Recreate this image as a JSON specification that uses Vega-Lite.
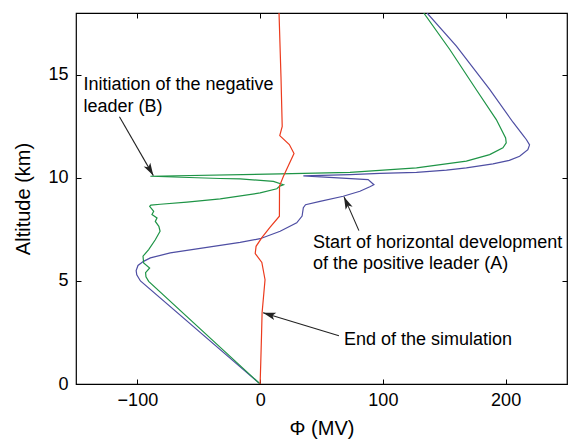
{
  "$schema": "https://vega.github.io/schema/vega-lite/v6.json",
  "width": 491,
  "height": 371,
  "autosize": {"type": "none"},
  "padding": {"left": 76, "top": 13, "right": 2, "bottom": 56},
  "background": "white",
  "config": {
    "font": "Liberation Sans",
    "view": {"stroke": "black", "strokeWidth": 1.2},
    "axis": {
      "grid": false,
      "domain": false,
      "tickColor": "black",
      "tickSize": 5,
      "offset": -5,
      "tickWidth": 1,
      "labelColor": "black",
      "labelFontSize": 18,
      "titleColor": "black",
      "titleFontSize": 20,
      "titleFontWeight": "normal"
    }
  },
  "datasets": {
    "curves": [
      {"s": "blue", "i": 0, "x": 0, "y": 0},
      {"s": "blue", "i": 1, "x": -97.5, "y": 5.0},
      {"s": "blue", "i": 2, "x": -100.5, "y": 5.3},
      {"s": "blue", "i": 3, "x": -101, "y": 5.5},
      {"s": "blue", "i": 4, "x": -99.5, "y": 5.75},
      {"s": "blue", "i": 5, "x": -95, "y": 5.95},
      {"s": "blue", "i": 6, "x": -89.4, "y": 6.12},
      {"s": "blue", "i": 7, "x": -73.2, "y": 6.36},
      {"s": "blue", "i": 8, "x": -46.1, "y": 6.6},
      {"s": "blue", "i": 9, "x": -16.3, "y": 6.87},
      {"s": "blue", "i": 10, "x": 0, "y": 7.05},
      {"s": "blue", "i": 11, "x": 16.3, "y": 7.41},
      {"s": "blue", "i": 12, "x": 29.8, "y": 7.82},
      {"s": "blue", "i": 13, "x": 34.2, "y": 8.15},
      {"s": "blue", "i": 14, "x": 35.2, "y": 8.55},
      {"s": "blue", "i": 15, "x": 37, "y": 8.7},
      {"s": "blue", "i": 16, "x": 48.8, "y": 8.86},
      {"s": "blue", "i": 17, "x": 67.7, "y": 9.11},
      {"s": "blue", "i": 18, "x": 81.3, "y": 9.35},
      {"s": "blue", "i": 19, "x": 89.4, "y": 9.57},
      {"s": "blue", "i": 20, "x": 92.7, "y": 9.67},
      {"s": "blue", "i": 21, "x": 88, "y": 9.92},
      {"s": "blue", "i": 22, "x": 35.2, "y": 10.1},
      {"s": "blue", "i": 23, "x": 73.2, "y": 10.16},
      {"s": "blue", "i": 24, "x": 97.6, "y": 10.22},
      {"s": "blue", "i": 25, "x": 127.4, "y": 10.27},
      {"s": "blue", "i": 26, "x": 151.8, "y": 10.38},
      {"s": "blue", "i": 27, "x": 168, "y": 10.49},
      {"s": "blue", "i": 28, "x": 189.7, "y": 10.68},
      {"s": "blue", "i": 29, "x": 203, "y": 10.85},
      {"s": "blue", "i": 30, "x": 211.4, "y": 11.05},
      {"s": "blue", "i": 31, "x": 218.1, "y": 11.37},
      {"s": "blue", "i": 32, "x": 219.5, "y": 11.6},
      {"s": "blue", "i": 33, "x": 217, "y": 11.85},
      {"s": "blue", "i": 34, "x": 213.8, "y": 12.1},
      {"s": "blue", "i": 35, "x": 206, "y": 12.7},
      {"s": "blue", "i": 36, "x": 187, "y": 14.29},
      {"s": "blue", "i": 37, "x": 159.9, "y": 16.39},
      {"s": "blue", "i": 38, "x": 136, "y": 18},
      {"s": "green", "i": 0, "x": 0, "y": 0},
      {"s": "green", "i": 1, "x": -90.8, "y": 4.98},
      {"s": "green", "i": 2, "x": -93, "y": 5.2},
      {"s": "green", "i": 3, "x": -93.3, "y": 5.4},
      {"s": "green", "i": 4, "x": -90, "y": 5.63},
      {"s": "green", "i": 5, "x": -94.9, "y": 5.87},
      {"s": "green", "i": 6, "x": -95.4, "y": 6.2},
      {"s": "green", "i": 7, "x": -90.8, "y": 6.52},
      {"s": "green", "i": 8, "x": -85.4, "y": 7.0},
      {"s": "green", "i": 9, "x": -81.5, "y": 7.41},
      {"s": "green", "i": 10, "x": -82.5, "y": 7.65},
      {"s": "green", "i": 11, "x": -85.4, "y": 7.89},
      {"s": "green", "i": 12, "x": -84, "y": 8.06},
      {"s": "green", "i": 13, "x": -88.1, "y": 8.22},
      {"s": "green", "i": 14, "x": -86.7, "y": 8.38},
      {"s": "green", "i": 15, "x": -90, "y": 8.62},
      {"s": "green", "i": 16, "x": -89, "y": 8.68},
      {"s": "green", "i": 17, "x": -81.3, "y": 8.72},
      {"s": "green", "i": 18, "x": -59.6, "y": 8.82},
      {"s": "green", "i": 19, "x": -32.5, "y": 8.98},
      {"s": "green", "i": 20, "x": 0, "y": 9.27},
      {"s": "green", "i": 21, "x": 13.6, "y": 9.47},
      {"s": "green", "i": 22, "x": 16, "y": 9.6},
      {"s": "green", "i": 23, "x": 19, "y": 9.67},
      {"s": "green", "i": 24, "x": 10.8, "y": 9.83},
      {"s": "green", "i": 25, "x": -16.3, "y": 9.95},
      {"s": "green", "i": 26, "x": -32.5, "y": 9.97},
      {"s": "green", "i": 27, "x": -89.4, "y": 10.08},
      {"s": "green", "i": 28, "x": 16.3, "y": 10.19},
      {"s": "green", "i": 29, "x": 73.2, "y": 10.27},
      {"s": "green", "i": 30, "x": 127.4, "y": 10.49},
      {"s": "green", "i": 31, "x": 168, "y": 10.81},
      {"s": "green", "i": 32, "x": 187, "y": 11.13},
      {"s": "green", "i": 33, "x": 197.8, "y": 11.46},
      {"s": "green", "i": 34, "x": 200.5, "y": 11.7},
      {"s": "green", "i": 35, "x": 200, "y": 11.94},
      {"s": "green", "i": 36, "x": 192.4, "y": 12.83},
      {"s": "green", "i": 37, "x": 176, "y": 14.29},
      {"s": "green", "i": 38, "x": 154.5, "y": 16.23},
      {"s": "green", "i": 39, "x": 133.3, "y": 18},
      {"s": "red", "i": 0, "x": 0, "y": 0},
      {"s": "red", "i": 1, "x": 0.5, "y": 1.0},
      {"s": "red", "i": 2, "x": 1.2, "y": 2.5},
      {"s": "red", "i": 3, "x": 1.6, "y": 3.46},
      {"s": "red", "i": 4, "x": 4, "y": 5.06},
      {"s": "red", "i": 5, "x": 1.4, "y": 5.9},
      {"s": "red", "i": 6, "x": -4, "y": 6.33},
      {"s": "red", "i": 7, "x": -3.3, "y": 6.68},
      {"s": "red", "i": 8, "x": 1.4, "y": 7.1},
      {"s": "red", "i": 9, "x": 8, "y": 7.6},
      {"s": "red", "i": 10, "x": 15.7, "y": 8.14},
      {"s": "red", "i": 11, "x": 15.8, "y": 9.6},
      {"s": "red", "i": 12, "x": 19, "y": 10.08},
      {"s": "red", "i": 13, "x": 27.6, "y": 11.18},
      {"s": "red", "i": 14, "x": 23.8, "y": 11.62},
      {"s": "red", "i": 15, "x": 16, "y": 12.05},
      {"s": "red", "i": 16, "x": 18, "y": 12.5},
      {"s": "red", "i": 17, "x": 17, "y": 14.9},
      {"s": "red", "i": 18, "x": 15.4, "y": 18}
    ],
    "arrows": [
      {"id": "B", "x": -114.6, "y": 12.97, "x2": -87, "y2": 10.11},
      {"id": "A", "x": 80.5, "y": 7.44, "x2": 68.3, "y2": 9.09},
      {"id": "E", "x": 64.2, "y": 2.34, "x2": 2.4, "y2": 3.46}
    ],
    "notes": [
      {"x": -143.9, "y": 14.53, "t": "Initiation of the negative"},
      {"x": -143.9, "y": 13.46, "t": "leader (B)"},
      {"x": 43.1, "y": 6.86, "t": "Start of horizontal development"},
      {"x": 43.1, "y": 5.84, "t": "of the positive leader (A)"},
      {"x": 68.3, "y": 2.15, "t": "End of the simulation"}
    ]
  },
  "resolve": {"axis": {"x": "independent", "y": "independent"}},
  "layer": [
    {
      "data": {"name": "curves"},
      "mark": {"type": "line", "strokeWidth": 1.2, "clip": true},
      "encoding": {
        "x": {"field": "x", "type": "quantitative",
              "scale": {"domain": [-150, 250], "nice": false, "zero": false},
              "axis": {"orient": "bottom", "values": [-100, 0, 100, 200], "labelPadding": 7, "title": "Φ (MV)", "titlePadding": 9}},
        "y": {"field": "y", "type": "quantitative",
              "scale": {"domain": [0, 18], "nice": false, "zero": false},
              "axis": {"orient": "left", "values": [0, 5, 10, 15], "labelPadding": 8, "title": "Altitude (km)", "titlePadding": 14}},
        "color": {"field": "s", "type": "nominal",
                  "scale": {"domain": ["blue", "green", "red"], "range": ["#4e4ea3", "#1e9446", "#ec3b1e"]},
                  "legend": null},
        "order": {"field": "i", "type": "quantitative"}
      }
    },
    {
      "data": {"name": "arrows"},
      "mark": {"type": "rule", "color": "#222222", "strokeWidth": 1.1},
      "encoding": {
        "x": {"field": "x", "type": "quantitative",
              "scale": {"domain": [-150, 250], "nice": false, "zero": false},
              "axis": {"orient": "top", "values": [-100, 0, 100, 200], "labels": false, "title": null}},
        "y": {"field": "y", "type": "quantitative",
              "scale": {"domain": [0, 18], "nice": false, "zero": false},
              "axis": {"orient": "right", "values": [0, 5, 10, 15], "labels": false, "title": null}},
        "x2": {"field": "x2"},
        "y2": {"field": "y2"}
      }
    },
    {
      "data": {"name": "arrows"},
      "transform": [{"filter": "datum.id == 'B'"}],
      "mark": {"type": "point", "shape": "M0,0L0.6,2L0,1.55L-0.6,2Z", "filled": true, "color": "#222222", "opacity": 1, "size": 160, "angle": 150},
      "encoding": {
        "x": {"field": "x2", "type": "quantitative", "axis": null},
        "y": {"field": "y2", "type": "quantitative", "axis": null}
      }
    },
    {
      "data": {"name": "arrows"},
      "transform": [{"filter": "datum.id == 'A'"}],
      "mark": {"type": "point", "shape": "M0,0L0.6,2L0,1.55L-0.6,2Z", "filled": true, "color": "#222222", "opacity": 1, "size": 160, "angle": 336},
      "encoding": {
        "x": {"field": "x2", "type": "quantitative", "axis": null},
        "y": {"field": "y2", "type": "quantitative", "axis": null}
      }
    },
    {
      "data": {"name": "arrows"},
      "transform": [{"filter": "datum.id == 'E'"}],
      "mark": {"type": "point", "shape": "M0,0L0.6,2L0,1.55L-0.6,2Z", "filled": true, "color": "#222222", "opacity": 1, "size": 160, "angle": 287},
      "encoding": {
        "x": {"field": "x2", "type": "quantitative", "axis": null},
        "y": {"field": "y2", "type": "quantitative", "axis": null}
      }
    },
    {
      "data": {"name": "notes"},
      "mark": {"type": "text", "align": "left", "baseline": "middle", "fontSize": 18, "color": "black"},
      "encoding": {
        "x": {"field": "x", "type": "quantitative", "axis": null},
        "y": {"field": "y", "type": "quantitative", "axis": null},
        "text": {"field": "t"}
      }
    }
  ]
}
